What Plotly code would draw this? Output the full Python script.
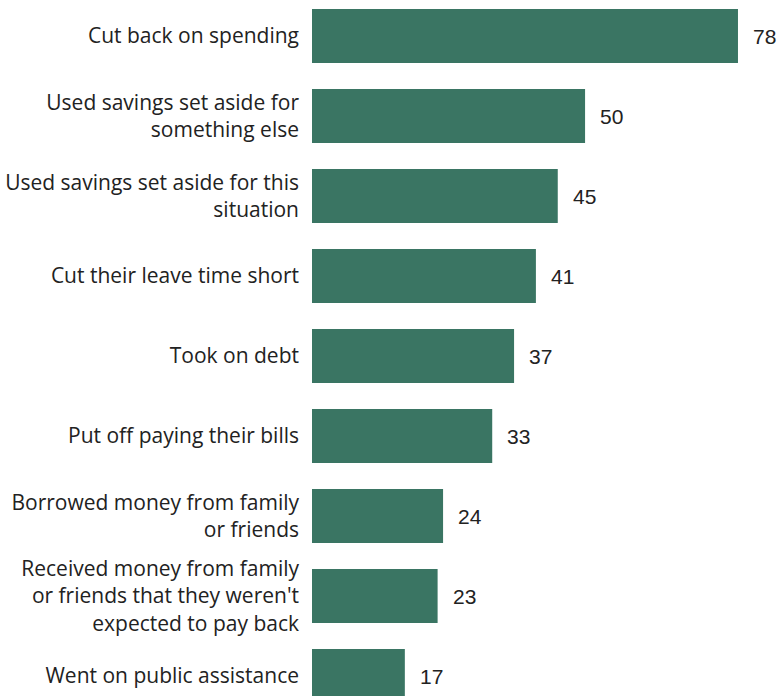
import plotly.graph_objects as go

categories = [
    "Cut back on spending",
    "Used savings set aside for<br>something else",
    "Used savings set aside for this<br>situation",
    "Cut their leave time short",
    "Took on debt",
    "Put off paying their bills",
    "Borrowed money from family<br>or friends",
    "Received money from family<br>or friends that they weren't<br>expected to pay back",
    "Went on public assistance",
]
values = [78, 50, 45, 41, 37, 33, 24, 23, 17]

BAR_COLOR = "#3a7563"
LABEL_FONT = "Open Sans, Roboto, Arial, sans-serif"

fig = go.Figure()
fig.add_trace(go.Bar(
    x=values,
    y=categories,
    orientation="h",
    marker=dict(color=BAR_COLOR, line=dict(width=0)),
    hoverinfo="skip",
))

for c, v in zip(categories, values):
    fig.add_annotation(
        x=v, y=c, text=str(v), showarrow=False,
        xanchor="left", yanchor="middle", xshift=13,
        font=dict(family="Liberation Sans, Arial, sans-serif", size=21, color="#222222"),
    )

fig.update_layout(
    width=782, height=696,
    margin=dict(l=312, r=0, t=0, b=0),
    paper_bgcolor="white", plot_bgcolor="white",
    bargap=0.325,
    showlegend=False,
    xaxis=dict(range=[0, 86.06], visible=False, fixedrange=True),
    yaxis=dict(
        range=[8.25, -0.45],
        showgrid=False, zeroline=False, showline=False,
        ticks="", ticklabelstandoff=12,
        tickfont=dict(family=LABEL_FONT, size=21, color="#222222"),
        fixedrange=True,
    ),
)

fig.write_html("out.html")
